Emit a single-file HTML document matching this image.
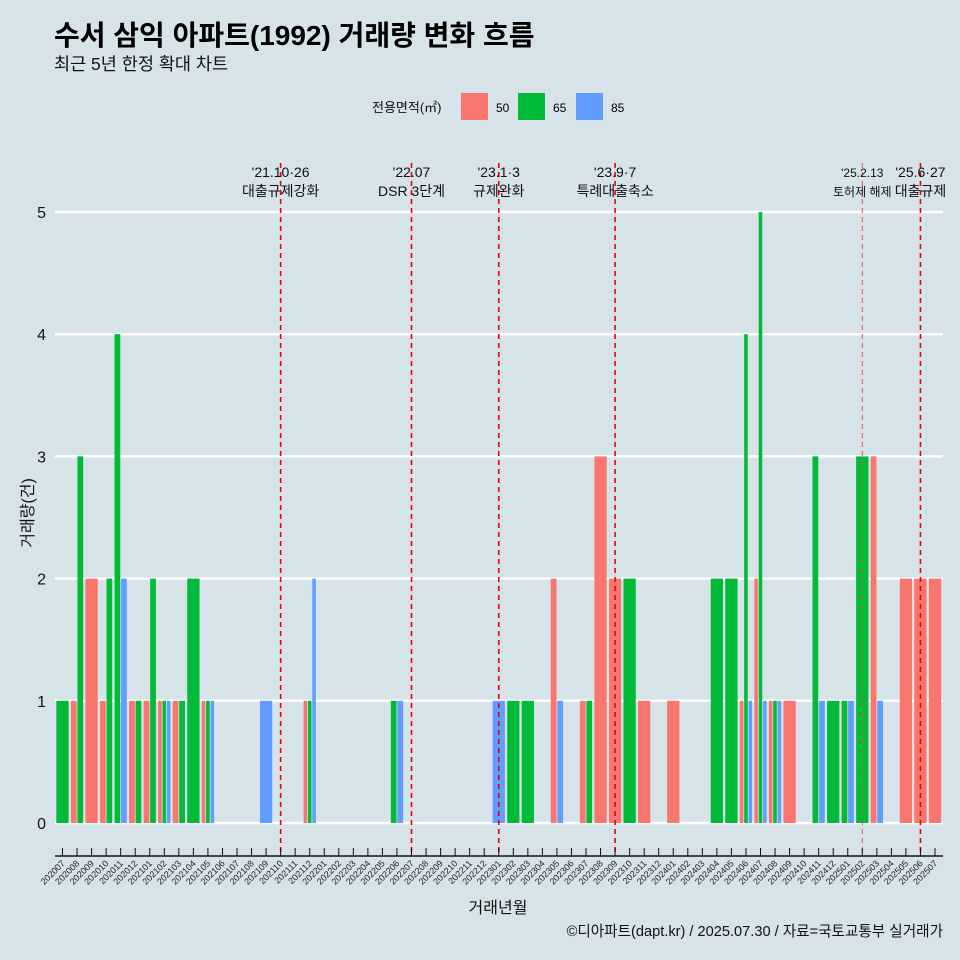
<!DOCTYPE html>
<html><head><meta charset="utf-8"><style>
body{margin:0;background:#d6e4ea;}
svg{display:block;font-family:"Liberation Sans","Noto Sans CJK KR",sans-serif;}
</style></head><body>
<svg id="chart" width="960" height="960" viewBox="0 0 960 960">
<rect width="960" height="960" fill="#d6e4ea"/>
<text x="54" y="45" font-size="28" font-weight="bold" fill="#000">수서 삼익 아파트(1992) 거래량 변화 흐름</text>
<text x="54" y="70" font-size="17.5" fill="#111">최근 5년 한정 확대 차트</text>
<g>
<text x="372" y="112" font-size="13" fill="#111">전용면적(㎡)</text>
<rect x="461" y="93" width="27" height="27" fill="#f8766d"/>
<text x="496" y="112" font-size="12">50</text>
<rect x="518" y="93" width="27" height="27" fill="#00ba38"/>
<text x="553" y="112" font-size="12">65</text>
<rect x="576" y="93" width="27" height="27" fill="#619cff"/>
<text x="611" y="112" font-size="12">85</text>
</g>
<g id="grid"></g><g id="bars"></g><g id="events"></g><g id="axes"></g>
<text transform="translate(33,513) rotate(-90)" text-anchor="middle" font-size="16" fill="#111">거래량(건)</text>
<text x="498" y="913" text-anchor="middle" font-size="16" fill="#111">거래년월</text>
<text x="943" y="936" text-anchor="end" font-size="14.6" fill="#111">©디아파트(dapt.kr) / 2025.07.30 / 자료=국토교통부 실거래가</text>
</svg>
<script>
const months=[];
for(let y=2020,m=7;!(y===2025&&m===8);){months.push(''+y+(m<10?'0':'')+m);m++;if(m>12){m=1;y++;}}
const types=['50','65','85'];
const colors={'50':'#f8766d','65':'#00ba38','85':'#619cff'};
const s50={'202008':1,'202009':2,'202010':1,'202012':1,'202101':1,'202102':1,'202103':1,'202105':1,'202112':1,'202305':2,'202307':1,'202308':3,'202309':2,'202311':1,'202401':1,'202406':1,'202407':2,'202408':1,'202409':1,'202503':3,'202505':2,'202506':2,'202507':2};
const s65={'202007':1,'202008':3,'202010':2,'202011':4,'202012':1,'202101':2,'202102':1,'202103':1,'202104':2,'202105':1,'202112':1,'202206':1,'202302':1,'202303':1,'202307':1,'202310':2,'202404':2,'202405':2,'202406':4,'202407':5,'202408':1,'202411':3,'202412':1,'202501':1,'202502':3};
const s85={'202011':2,'202102':1,'202105':1,'202109':1,'202112':2,'202206':1,'202301':1,'202305':1,'202406':1,'202407':1,'202408':1,'202411':1,'202501':1,'202503':1};
const series={'50':s50,'65':s65,'85':s85};
const yTicks=[0,1,2,3,4,5];
const eventMonths=['202110','202207','202301','202309','202502','202506'];
const eventDates=["'21.10·26","'22.07","'23.1·3","'23.9·7","'25.2.13","'25.6·27"];
const eventLabels=['대출규제강화','DSR 3단계','규제완화','특례대출축소','토허제 해제','대출규제'];

const NS='http://www.w3.org/2000/svg';
const x0=62.5,step=(935-62.5)/60;
const xs=i=>x0+i*step;
const ys=v=>823-v*122.2;
function mk(tag,attrs,parent){const e=document.createElementNS(NS,tag);for(const k in attrs)e.setAttribute(k,attrs[k]);document.getElementById(parent).appendChild(e);return e;}

yTicks.forEach(t=>{
  const l=mk('line',{x1:55,x2:943,y1:ys(t),y2:ys(t),stroke:'#fff','stroke-width':2.5},'grid');
  
  
  const tx=mk('text',{x:46,y:ys(t)+6,'text-anchor':'end','font-size':16,fill:'#111'},'axes');
  tx.textContent=t;
  
  
});

const bw=step*0.9;
months.forEach((m,i)=>{
  const present=types.filter(t=>series[t][m]);
  const k=present.length;if(!k)return;
  const w=bw/k;
  present.forEach((t,j)=>{
    const v=series[t][m];
    const x=xs(i)-bw/2+j*w;
    const r=mk('rect',{x:x+0.4,y:ys(v),width:Math.max(w-0.8,0.5),height:ys(0)-ys(v),fill:colors[t]},'bars');
    
    
  });
});

eventMonths.forEach((m,i)=>{
  const x=xs(months.indexOf(m));
  const small=i===4;
  const l=mk('line',{x1:x,x2:x,y1:163,y2:852,stroke:small?'#e85050':'#ee0000','stroke-width':small?1:1.6,'stroke-dasharray':'5,4'},'events');
  
  
  const fs=small?12:14;
  const t1=mk('text',{x:x,y:177,'text-anchor':'middle','font-size':fs,fill:'#111'},'events');
  t1.textContent=eventDates[i];
  
  
  const t2=mk('text',{x:x,y:196,'text-anchor':'middle','font-size':fs,fill:'#111'},'events');
  t2.textContent=eventLabels[i];
  
  
});

const ax=mk('line',{x1:55,x2:943,y1:856,y2:856,stroke:'#111','stroke-width':1.5},'axes');


months.forEach((m,i)=>{
  const x=xs(i);
  const tk=mk('line',{x1:x,x2:x,y1:848,y2:856,stroke:'#111','stroke-width':1},'axes');
  
  
  const tx=mk('text',{transform:`translate(${x+3},${864}) rotate(-45)`,'text-anchor':'end','font-size':9,fill:'#222'},'axes');
  tx.textContent=m;
  
  
});
</script>
</body></html>
